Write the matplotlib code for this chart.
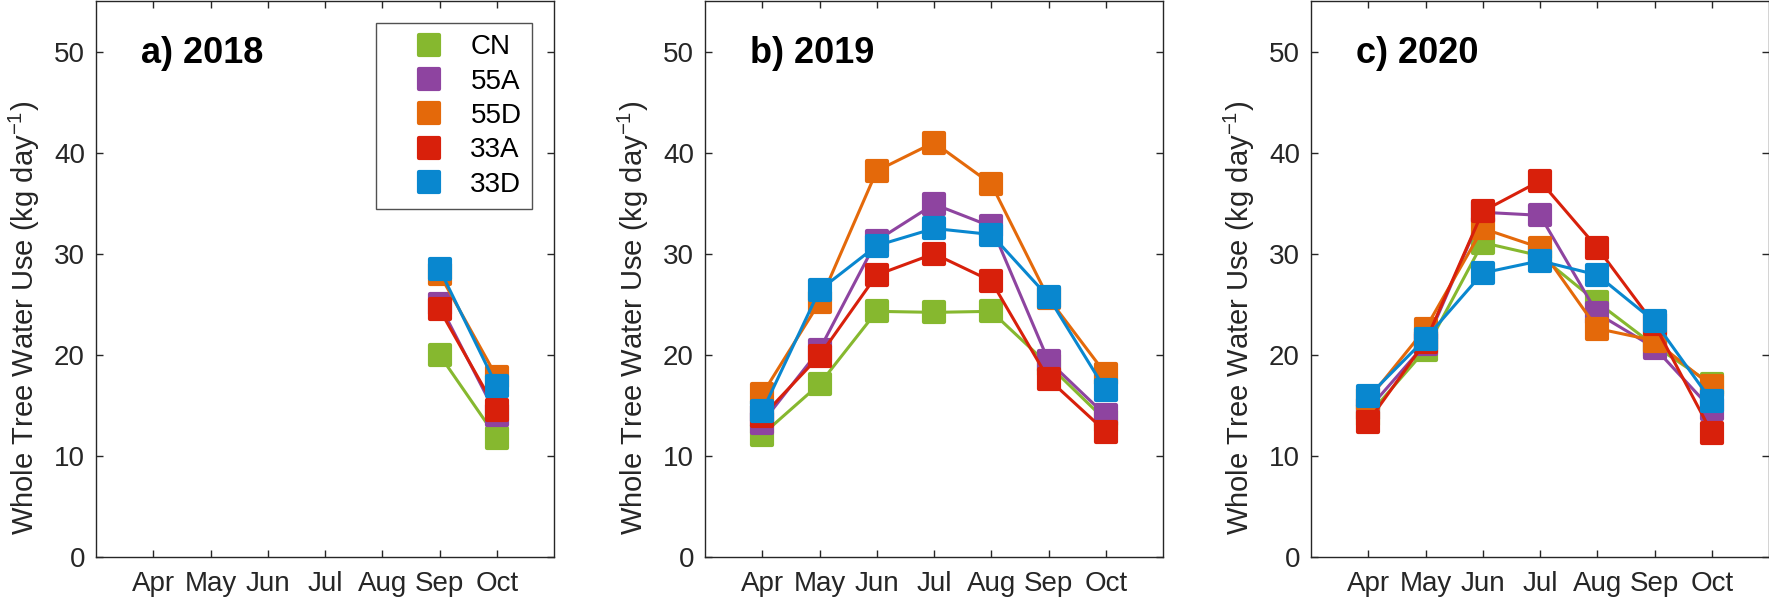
import numpy as np
import matplotlib
matplotlib.use("Agg")
from matplotlib import pyplot
from matplotlib.lines import Line2D
from matplotlib.markers import MarkerStyle

pyplot.rcParams['font.family'] = ['Liberation Sans', 'DejaVu Sans']
pyplot.rcParams['mathtext.fontset'] = 'custom'
pyplot.rcParams['mathtext.rm'] = 'Liberation Sans'
pyplot.rcParams['mathtext.default'] = 'regular'

months = ["Apr", "May", "Jun", "Jul", "Aug", "Sep", "Oct"]
treatments = ["CN", "55A", "55D", "33A", "33D"]
colors = ["#86b82f", "#8e44a0", "#e4690a", "#d8200b", "#0987cf"]

# 2018: only Sep and Oct measured
months_2018 = ["Sep", "Oct"]
use_2018 = {
    "CN":  [20.0, 11.8],
    "55A": [25.0, 14.0],
    "55D": [28.0, 17.8],
    "33A": [24.5, 14.5],
    "33D": [28.5, 16.9],
}
use_2019 = {
    "CN":  [12.1, 17.1, 24.3, 24.2, 24.3, 19.0, 13.5],
    "55A": [13.3, 20.5, 31.3, 34.9, 32.7, 19.4, 14.0],
    "55D": [16.1, 25.2, 38.2, 41.0, 36.9, 25.6, 18.1],
    "33A": [13.9, 19.9, 27.9, 30.0, 27.3, 17.6, 12.4],
    "33D": [14.4, 26.4, 30.8, 32.5, 31.9, 25.7, 16.5],
}
use_2020 = {
    "CN":  [14.0, 20.5, 31.1, 29.8, 25.2, 20.9, 17.1],
    "55A": [14.6, 21.1, 34.1, 33.8, 24.1, 20.7, 14.6],
    "55D": [15.6, 22.6, 32.5, 30.6, 22.6, 21.4, 16.9],
    "33A": [13.4, 21.3, 34.2, 37.2, 30.6, 23.0, 12.3],
    "33D": [15.9, 21.6, 28.1, 29.3, 27.9, 23.3, 15.4],
}
panels = [("a) 2018", months_2018, use_2018),
          ("b) 2019", months, use_2019),
          ("c) 2020", months, use_2020)]

sq = MarkerStyle('s', joinstyle='round')

fig = pyplot.figure(figsize=(17.69, 6.04), dpi=100)
lefts = [96, 705, 1311]
W, H = 1769.0, 604.0
axes = []
for l in lefts:
    ax = fig.add_axes([l / W, (H - 557) / H, 458 / W, 556 / H])
    axes.append(ax)

for ax, (title, mlist, data) in zip(axes, panels):
    x = [months.index(m) + 1 for m in mlist]
    for name, col in zip(treatments, colors):
        ax.plot(x, data[name], color=col, lw=2.2, marker=sq, ms=14.5,
                mec=col, mew=3, mfc=col, solid_joinstyle='round')
    ax.set_xlim(0, 8)
    ax.set_ylim(0, 55)
    ax.set_xticks(range(1, 8))
    ax.set_xticklabels(months)
    ax.set_yticks(range(0, 51, 10))
    ax.tick_params(direction='in', length=5, width=1, top=True, right=True,
                   labelsize=20, colors='#262626', pad=8)
    ax.tick_params(axis='x', pad=10)
    for s in ax.spines.values():
        s.set_color('#262626')
        s.set_linewidth(1)
    ax.set_ylabel('Whole Tree Water Use (kg day$^{-1}$)', fontsize=21,
                  color='#262626')
    ax.yaxis.set_label_coords(-0.117, 0.43)
    ax.text(0.78, 49.8, title, fontsize=26, fontweight='bold', va='center',
            ha='left')

handles = [Line2D([], [], ls='none', marker=sq, ms=14.5, mew=3, color=c, mec=c)
           for c in colors]
leg = axes[0].legend(handles, treatments, loc='upper right',
                     bbox_to_anchor=(0.953, 0.96), fontsize=20,
                     frameon=True, fancybox=False, handlelength=3.0,
                     handletextpad=0.0, labelspacing=0.3, borderpad=0.4,
                     borderaxespad=0, numpoints=1)
leg.get_frame().set_edgecolor('#262626')
leg.get_frame().set_linewidth(1)

fig.savefig("out.png", dpi=100)
